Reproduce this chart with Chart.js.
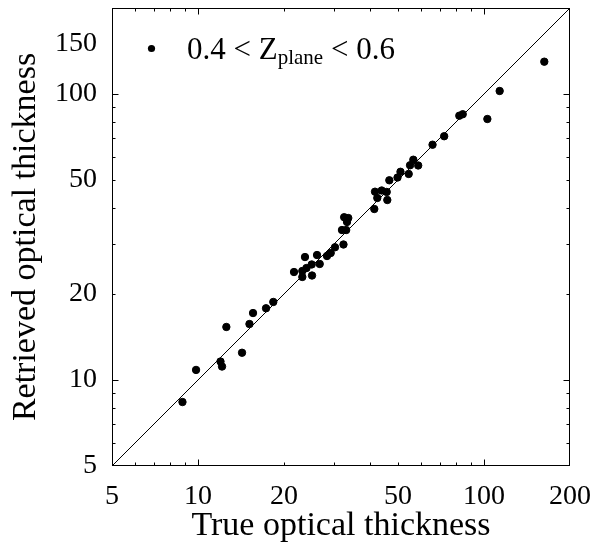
<!DOCTYPE html>
<html>
<head>
<meta charset="utf-8">
<script src="https://cdn.jsdelivr.net/npm/chart.js@4.4.1/dist/chart.umd.min.js"></script>
<style>
  html, body { margin: 0; padding: 0; background: #fff; }
</style>
</head>
<body>
<canvas id="myChart" width="599" height="546"></canvas>
<script>
// values
const trueTau = [8.82, 9.84, 11.98, 12.13, 12.56, 14.25, 15.13, 15.57, 17.29, 18.33,
  21.66, 23.16, 23.16, 23.66, 23.95, 24.98, 25.04, 26.07, 26.64, 28.25,
  29.11, 30.13, 32.26, 31.87, 32.97, 32.44, 33.53, 33.19, 41.35, 42.36,
  45.92, 41.59, 43.89, 45.70, 46.67, 49.85, 51.06, 54.55, 55.15, 56.62,
  58.89, 66.1, 72.6, 82.0, 84.3, 102.8, 113.5, 162.6];
const retrievedTau = [8.37, 10.84, 11.60, 11.14, 15.32, 12.45, 15.69, 17.14, 17.81, 18.74,
  23.85, 24.05, 22.92, 26.91, 24.63, 25.35, 23.19, 27.35, 25.45, 27.13,
  27.80, 29.11, 29.77, 33.45, 33.45, 37.09, 36.85, 35.69, 39.62, 43.30,
  42.60, 45.55, 45.99, 45.45, 49.93, 51.06, 53.48, 52.54, 56.35, 58.93,
  56.26, 66.5, 71.2, 84.0, 85.0, 81.8, 102.5, 129.8];
const oneToOne = [5, 200];
const xTickLabels = [5, 10, 20, 50, 100, 200];
const yTickLabels = [5, 10, 20, 50, 100, 150];
const tickMarks = [6, 7, 8, 9, 10, 20, 30, 40, 50, 60, 70, 80, 90, 100];
const decadeMarks = [10, 100];

const serif = '"Liberation Serif", "Times New Roman", serif';

// box round the plot, with inward ticks on all four sides
const frameTicks = {
  id: 'frameTicks',
  afterDatasetsDraw(chart) {
    const {ctx, chartArea: a, scales: {x, y}} = chart;
    const L = Math.round(a.left) + 0.5, R = Math.round(a.right) - 0.5;
    const T = Math.round(a.top) + 0.5, B = Math.round(a.bottom) - 0.5;
    ctx.save();
    ctx.strokeStyle = '#000';
    ctx.lineWidth = 1;
    ctx.strokeRect(L, T, R - L, B - T);
    ctx.beginPath();
    tickMarks.forEach(v => {
      const len = decadeMarks.includes(v) ? 6 : 3;
      const px = Math.round(x.getPixelForValue(v)) + 0.5;
      ctx.moveTo(px, B); ctx.lineTo(px, B - len);
      ctx.moveTo(px, T); ctx.lineTo(px, T + len);
      const py = Math.round(y.getPixelForValue(v)) + 0.5;
      ctx.moveTo(L, py); ctx.lineTo(L + len, py);
      ctx.moveTo(R, py); ctx.lineTo(R - len, py);
    });
    ctx.stroke();
    ctx.restore();
  }
};

// legend with a subscript
const legendText = {
  id: 'legendText',
  afterDraw(chart) {
    const {ctx} = chart;
    ctx.save();
    ctx.fillStyle = '#000';
    ctx.beginPath();
    ctx.arc(151.5, 48.5, 3.6, 0, Math.PI * 2);
    ctx.fill();
    ctx.textBaseline = 'alphabetic';
    ctx.textAlign = 'left';
    let cx = 187;
    ctx.font = '31px ' + serif;
    ctx.fillText('0.4 < Z', cx, 59);
    cx += ctx.measureText('0.4 < Z').width;
    ctx.font = '21px ' + serif;
    ctx.fillText('plane', cx, 64);
    cx += ctx.measureText('plane').width;
    ctx.font = '31px ' + serif;
    ctx.fillText(' < 0.6', cx, 59);
    ctx.restore();
  }
};

function noPad(s) {
  s.paddingLeft = 0; s.paddingRight = 0; s.paddingTop = 0; s.paddingBottom = 0;
}

const ctx = document.getElementById('myChart');

new Chart(ctx, {
  type: 'scatter',
  data: {
    datasets: [{
      data: trueTau.map((t, i) => ({x: t, y: retrievedTau[i]})),
      backgroundColor: '#000',
      borderColor: '#000',
      pointRadius: 3.7,
      pointHoverRadius: 3.7
    },
    {
      data: oneToOne.map(v => ({x: v, y: v})),
      showLine: true,
      borderColor: '#000',
      borderWidth: 1,
      pointRadius: 0
    }]
  },
  options: {
    responsive: false,
    animation: false,
    layout: {padding: {left: 0, right: 29, top: 8, bottom: 0}},
    plugins: {
      legend: {display: false},
      tooltip: {enabled: false}
    },
    scales: {
      x: {
        type: 'logarithmic',
        min: 5,
        max: 200,
        afterBuildTicks: s => { s.ticks = xTickLabels.map(v => ({value: v})); },
        afterFit: s => { s.height = 80; noPad(s); },
        grid: {display: false, drawTicks: false},
        border: {display: false},
        ticks: {
          autoSkip: false, maxRotation: 0, padding: 14, color: '#000',
          font: {family: serif, size: 28},
          callback: v => String(v)
        },
        title: {
          display: true, text: 'True optical thickness', color: '#000',
          font: {family: serif, size: 34}, padding: {top: 0, bottom: 0}
        }
      },
      y: {
        type: 'logarithmic',
        min: 5,
        max: 200,
        afterBuildTicks: s => { s.ticks = yTickLabels.map(v => ({value: v})); },
        afterFit: s => { s.width = 112; noPad(s); },
        grid: {display: false, drawTicks: false},
        border: {display: false},
        ticks: {
          autoSkip: false, padding: 15, color: '#000',
          font: {family: serif, size: 28},
          callback: v => String(v)
        },
        title: {
          display: true, text: 'Retrieved optical thickness', color: '#000',
          font: {family: serif, size: 34}, padding: {top: 6, bottom: 0}
        }
      }
    }
  },
  plugins: [frameTicks, legendText]
});
</script>
</body>
</html>
